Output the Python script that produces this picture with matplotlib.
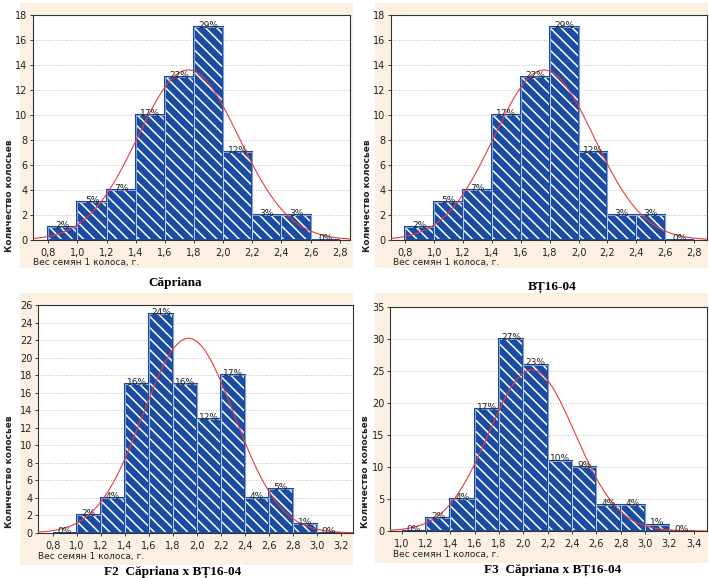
import numpy as np
import matplotlib
matplotlib.use("Agg")
import matplotlib.pyplot as plt
from matplotlib.patches import Rectangle

# ---- data ----
bin_width = 0.2

capriana_edges = [0.8, 1.0, 1.2, 1.4, 1.6, 1.8, 2.0, 2.2, 2.4, 2.6]
capriana_counts = [1, 3, 4, 10, 13, 17, 7, 2, 2, 0]
capriana_pct = ["2%", "5%", "7%", "17%", "22%", "29%", "12%", "3%", "3%", "0%"]

bt_edges = [0.8, 1.0, 1.2, 1.4, 1.6, 1.8, 2.0, 2.2, 2.4, 2.6]
bt_counts = [1, 3, 4, 10, 13, 17, 7, 2, 2, 0]
bt_pct = ["2%", "5%", "7%", "17%", "22%", "29%", "12%", "3%", "3%", "0%"]

f2_edges = [0.8, 1.0, 1.2, 1.4, 1.6, 1.8, 2.0, 2.2, 2.4, 2.6, 2.8, 3.0]
f2_counts = [0, 2, 4, 17, 25, 17, 13, 18, 4, 5, 1, 0]
f2_pct = ["0%", "2%", "4%", "16%", "24%", "16%", "12%", "17%", "4%", "5%", "1%", "0%"]

f3_edges = [1.0, 1.2, 1.4, 1.6, 1.8, 2.0, 2.2, 2.4, 2.6, 2.8, 3.0, 3.2]
f3_counts = [0, 2, 5, 19, 30, 26, 11, 10, 4, 4, 1, 0]
f3_pct = ["0%", "2%", "4%", "17%", "27%", "23%", "10%", "9%", "4%", "4%", "1%", "0%"]

# fitted normal curves (mean, sd) as read from the peaks
capriana_fit = (1.76, 0.346)
bt_fit = (1.76, 0.346)
f2_fit = (1.93, 0.381)
f3_fit = (2.07, 0.355)

panels = [
    dict(edges=capriana_edges, counts=capriana_counts, pct=capriana_pct, fit=capriana_fit,
         xticks=[0.8, 1.0, 1.2, 1.4, 1.6, 1.8, 2.0, 2.2, 2.4, 2.6, 2.8],
         yticks=list(range(0, 19, 2)), xlim=(0.695, 2.87), ylim=(0, 18),
         caption="Căpriana"),
    dict(edges=bt_edges, counts=bt_counts, pct=bt_pct, fit=bt_fit,
         xticks=[0.8, 1.0, 1.2, 1.4, 1.6, 1.8, 2.0, 2.2, 2.4, 2.6, 2.8],
         yticks=list(range(0, 19, 2)), xlim=(0.70, 2.89), ylim=(0, 18),
         caption="BȚ16-04"),
    dict(edges=f2_edges, counts=f2_counts, pct=f2_pct, fit=f2_fit,
         xticks=[0.8, 1.0, 1.2, 1.4, 1.6, 1.8, 2.0, 2.2, 2.4, 2.6, 2.8, 3.0, 3.2],
         yticks=list(range(0, 27, 2)), xlim=(0.677, 3.30), ylim=(0, 26),
         caption="F2  Căpriana x BȚ16-04"),
    dict(edges=f3_edges, counts=f3_counts, pct=f3_pct, fit=f3_fit,
         xticks=[1.0, 1.2, 1.4, 1.6, 1.8, 2.0, 2.2, 2.4, 2.6, 2.8, 3.0, 3.2, 3.4],
         yticks=list(range(0, 36, 5)), xlim=(0.904, 3.51), ylim=(0, 35),
         caption="F3  Căpriana x BȚ16-04"),
]

W, H = 709, 578
# pixel boxes: (left, top, right, bottom)
axes_px = [(33, 15, 350, 240), (391, 15, 707, 240), (38, 305, 353, 533), (390, 307, 707, 531)]
bg_px = [(20, 3, 353, 268), (375, 3, 708, 268), (20, 293, 353, 565), (375, 293, 708, 563)]
caption_px = [(175, 283), (552, 287), (173, 572), (553, 570)]
ylabel_px = [(10, 196), (367, 196), (10, 472), (366, 472)]
xlabel_px = [(33, 263), (393, 263), (38, 557), (393, 555)]

blue = "#1a4ca3"
beige = "#fcf0e2"
red = "#ec3a3a"

plt.rcParams["hatch.linewidth"] = 1.1

fig = plt.figure(figsize=(W / 100, H / 100), dpi=100)
fig.patch.set_facecolor("white")


def box(px):
    l, t, r, b = px
    return [l / W, 1 - b / H, (r - l) / W, (b - t) / H]


for p, apx, bpx, cpx, ypx, xpx in zip(panels, axes_px, bg_px, caption_px, ylabel_px, xlabel_px):
    bb = box(bpx)
    fig.patches.append(Rectangle(bb[:2], bb[2], bb[3], transform=fig.transFigure,
                                 facecolor=beige, edgecolor="none", zorder=-5))
    ax = fig.add_axes(box(apx))
    ax.set_zorder(2)
    ax.set_facecolor("white")
    ax.set_axisbelow(True)
    ax.set_xlim(*p["xlim"])
    ax.set_ylim(*p["ylim"])

    for yv in p["yticks"][1:]:
        ax.axhline(yv, color="#a8a8a8", lw=0.6, ls=(0, (1, 2)), zorder=0)

    # filled hatched bars, then the outline
    ax.bar(p["edges"], p["counts"], width=bin_width, align="edge",
           color=blue, edgecolor="white", hatch="\\\\\\", lw=0, zorder=2)
    ax.bar(p["edges"], p["counts"], width=bin_width, align="edge",
           fill=False, edgecolor=blue, lw=1.5, zorder=3)
    ax.bar(p["edges"], p["counts"], width=bin_width, align="edge",
           fill=False, edgecolor="#dfe8f5", lw=0.4, zorder=3)

    for e, c, t in zip(p["edges"], p["counts"], p["pct"]):
        ax.text(e + bin_width / 2, c - 0.012 * p["ylim"][1], t, ha="center", va="bottom",
                fontsize=6.5, color="#222222", zorder=5)

    m, s = p["fit"]
    n = sum(p["counts"])
    xs = np.linspace(p["xlim"][0], p["xlim"][1], 300)
    ys = n * bin_width * np.exp(-0.5 * ((xs - m) / s) ** 2) / (s * np.sqrt(2 * np.pi))
    ax.plot(xs, ys, color=red, lw=0.8, zorder=4)

    ax.set_xticks(p["xticks"])
    ax.set_xticklabels([f"{v:.1f}".replace(".", ",") for v in p["xticks"]])
    ax.set_yticks(p["yticks"])
    ax.tick_params(labelsize=7, length=2, width=0.6, pad=2, colors="#222222")
    ax.tick_params(axis="x", pad=4)
    for sp in ax.spines.values():
        sp.set_linewidth(0.8)
        sp.set_color("#333333")

    fig.text(xpx[0] / W, 1 - xpx[1] / H, "Вес семян 1 колоса, г.", fontsize=6.5,
             ha="left", va="center", color="#222222")
    fig.text(ypx[0] / W, 1 - ypx[1] / H, "Количество колосьев", fontsize=6.5,
             rotation=90, ha="center", va="center", color="#222222", fontweight="bold")
    fig.text(cpx[0] / W, 1 - cpx[1] / H, p["caption"], fontsize=9.5,
             family="Liberation Serif", fontweight="bold", ha="center", va="center")

fig.savefig("out.png", dpi=100, facecolor="white")
